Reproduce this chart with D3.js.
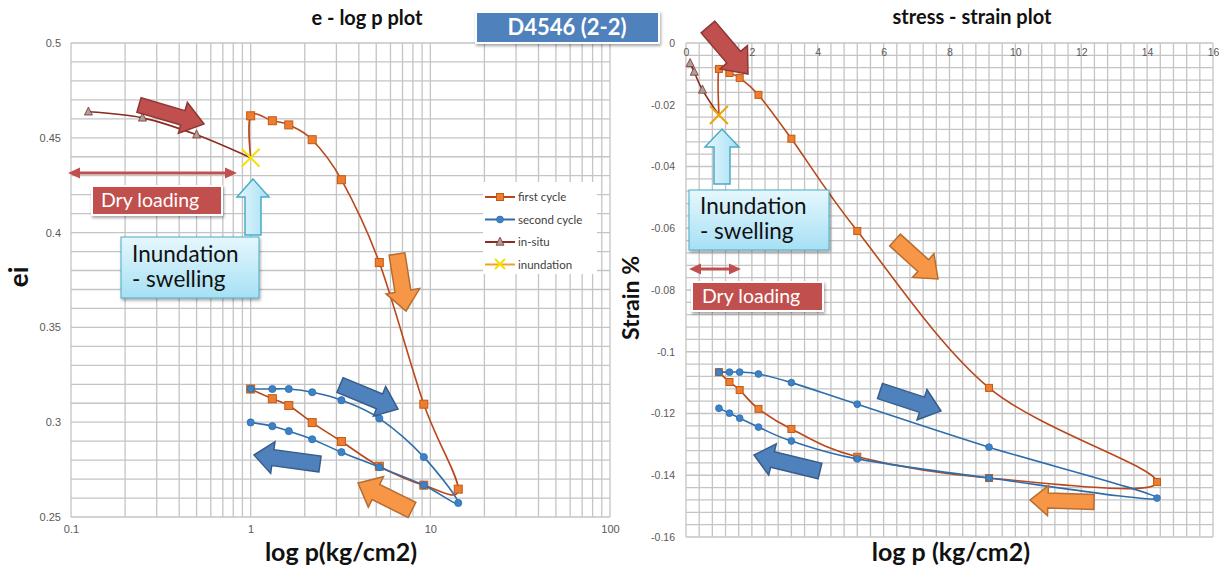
<!DOCTYPE html>
<html lang="en">
<head>
<meta charset="UTF-8">
<title>D4546 (2-2)</title>
<script src="https://d3js.org/d3.v7.min.js"></script>
<style>
    body { margin: 0; background: #fff; }
    svg { font-family: Lato, "Open Sans", sans-serif; }
    .grid line { stroke: #c4c4c4; stroke-width: 1.3px; }
    .tick text { fill: #595959; }
    .axis .domain { display: none; }
</style>
</head>
<body>
<svg width="1225" height="569"></svg>
<script>
// pressures (kg/cm2)
const inSituP = [0.125, 0.25, 0.5, 1];
const firstP = [1, 1.32, 1.63, 2.2, 3.2, 5.2, 9.2, 14.3, 9.2, 5.2, 3.2, 2.2, 1.63, 1.32, 1];
const secondP = [1, 1.32, 1.63, 2.2, 3.2, 5.2, 9.2, 14.3, 9.2, 5.2, 3.2, 2.2, 1.63, 1.32, 1];
const inundP = [1];

// void ratio, e - log p plot
const inSituE = [0.4637, 0.4605, 0.4516, 0.4395];
const firstE = [0.4616, 0.459, 0.4568, 0.449, 0.4279, 0.3842, 0.3095, 0.2647, 0.2668, 0.2768, 0.2898, 0.2998, 0.3088, 0.3124, 0.3175];
const secondE = [0.3175, 0.3175, 0.3175, 0.3158, 0.3116, 0.302, 0.2816, 0.2574, 0.2668, 0.2763, 0.2842, 0.291, 0.2953, 0.2979, 0.2999];
const inundE = [0.4395];

// strain, stress - strain plot
const inSituS = [-0.0066, -0.0094, -0.0152, -0.0233];
const firstS = [-0.0084, -0.0097, -0.0113, -0.0168, -0.031, -0.0609, -0.1117, -0.1422, -0.1409, -0.134, -0.125, -0.1185, -0.1124, -0.1098, -0.1066];
const secondS = [-0.1066, -0.1066, -0.1066, -0.1072, -0.110, -0.117, -0.1309, -0.1474, -0.1409, -0.1347, -0.1289, -0.1244, -0.1215, -0.1199, -0.1183];
const inundS = [-0.0233];

const leftXTicks = [0.1, 1, 10, 100];
const leftYTicks = [0.25, 0.3, 0.35, 0.4, 0.45, 0.5];
const rightXTicks = [0, 2, 4, 6, 8, 10, 12, 14, 16];
const rightYTicks = [0, -0.02, -0.04, -0.06, -0.08, -0.1, -0.12, -0.14, -0.16];
const legendNames = ["first cycle", "second cycle", "in-situ", "inundation"];

const col = {
    first: "#b9471c", firstFill: "#ed7d31", firstEdge: "#c55a11",
    second: "#2e6dac", secondFill: "#3d82c6",
    insitu: "#8b2a1e", insituFill: "#a3a3a3",
    inund: "#f0a030",
    red: "#c0504d", redEdge: "#8c3836",
    orange: "#f79646", orangeEdge: "#b66d31",
    blue: "#4f81bd", blueEdge: "#385d8a",
    cyanEdge: "#4bacc6"
};

const svg = d3.select("svg");
const defs = svg.append("defs");
const shadow = defs.append("filter").attr("id", "shadow").attr("x", "-20%").attr("y", "-20%").attr("width", "140%").attr("height", "160%");
shadow.append("feDropShadow").attr("dx", 1).attr("dy", 2).attr("stdDeviation", 1.8).attr("flood-opacity", 0.35);
const grad = defs.append("linearGradient").attr("id", "cyan").attr("x1", 0).attr("y1", 0).attr("x2", 0).attr("y2", 1);
grad.append("stop").attr("offset", "0%").attr("stop-color", "#e6f7fd");
grad.append("stop").attr("offset", "100%").attr("stop-color", "#a6e0f4");

// scales
const xL = d3.scaleLog().domain([0.1, 100]).range([71, 610]);
const yL = d3.scaleLinear().domain([0.25, 0.5]).range([517, 43]);
const xR = d3.scaleLinear().domain([0, 16]).range([686, 1213]);
const yR = d3.scaleLinear().domain([-0.16, 0]).range([537, 43]);

// ---------- grids ----------
const logMinor = [];
[0.1, 1, 10].forEach(d => { for (let k = 1; k < 10; k++) logMinor.push(+(d * k).toPrecision(3)); });
logMinor.push(100);

function drawGrid(xs, ys, xVals, yVals) {
    const g = svg.append("g").attr("class", "grid");
    const [x0, x1] = xs.range(), [y0, y1] = ys.range();
    g.selectAll(".v").data(xVals).join("line").attr("class", "v")
        .attr("x1", d => xs(d)).attr("x2", d => xs(d)).attr("y1", y0).attr("y2", y1);
    g.selectAll(".h").data(yVals).join("line").attr("class", "h")
        .attr("x1", x0).attr("x2", x1).attr("y1", d => ys(d)).attr("y2", d => ys(d));
}
drawGrid(xL, yL, logMinor, d3.range(0, 26).map(i => 0.25 + i * 0.01));
drawGrid(xR, yR, d3.range(0, 41).map(i => i * 0.4), d3.range(0, 41).map(i => -0.16 + i * 0.004));

// ---------- axes labels ----------
const fmt = d => String(+d.toFixed(2));
svg.append("g").attr("class", "axis").attr("transform", "translate(71,0)")
    .call(d3.axisLeft(yL).tickValues(leftYTicks).tickFormat(fmt).tickSize(0).tickPadding(10))
    .selectAll("text").style("font-size", "11px");
svg.append("g").attr("class", "axis").attr("transform", "translate(0,517)")
    .call(d3.axisBottom(xL).tickValues(leftXTicks).tickFormat(d => String(d)).tickSize(0).tickPadding(8))
    .selectAll("text").style("font-size", "11px");
svg.append("g").attr("class", "axis").attr("transform", "translate(686,0)")
    .call(d3.axisLeft(yR).tickValues(rightYTicks).tickFormat(fmt).tickSize(0).tickPadding(11))
    .selectAll("text").style("font-size", "10.5px");
svg.append("g").attr("class", "axis").attr("transform", "translate(0,43)")
    .call(d3.axisBottom(xR).tickValues(rightXTicks).tickFormat(d => String(d)).tickSize(0).tickPadding(6))
    .selectAll("text").style("font-size", "10.5px");

// titles
function label(x, y, text, size, rot) {
    const t = svg.append("text").attr("text-anchor", "middle").attr("font-weight", "bold")
        .attr("font-size", size).attr("fill", "#111").text(text);
    if (rot) t.attr("transform", `translate(${x},${y}) rotate(-90)`);
    else t.attr("x", x).attr("y", y);
}
label(367, 25, "e - log p plot", 20);
label(972, 24, "stress - strain plot", 20);
label(341, 561, "log p(kg/cm2)", 25);
label(951, 561, "log p (kg/cm2)", 25);
label(28, 277, "ei", 26, true);
label(639, 298, "Strain %", 23, true);

// ---------- series ----------
const smooth = d3.curveCardinal.tension(0);

function series(xs, ys, P, V, color, width, startP, startV) {
    const pts = P.map((p, i) => [xs(p), ys(V[i])]);
    if (startP !== undefined) pts.unshift([xs(startP), ys(startV)]);
    svg.append("path").attr("d", d3.line().curve(smooth)(pts))
        .attr("fill", "none").attr("stroke", color).attr("stroke-width", width);
    return P.map((p, i) => [xs(p), ys(V[i])]);
}
function squares(pts, s) {
    svg.append("g").selectAll("rect").data(pts).join("rect")
        .attr("x", d => d[0] - s / 2).attr("y", d => d[1] - s / 2).attr("width", s).attr("height", s)
        .attr("fill", col.firstFill).attr("stroke", col.firstEdge).attr("stroke-width", 1);
}
function circles(pts, r) {
    svg.append("g").selectAll("circle").data(pts).join("circle")
        .attr("cx", d => d[0]).attr("cy", d => d[1]).attr("r", r)
        .attr("fill", col.secondFill).attr("stroke", col.second).attr("stroke-width", 0.8);
}
function triangles(pts, s) {
    svg.append("g").selectAll("path").data(pts).join("path")
        .attr("d", d => `M${d[0]},${d[1] - s * 0.6}L${d[0] + s / 2},${d[1] + s * 0.4}L${d[0] - s / 2},${d[1] + s * 0.4}Z`)
        .attr("fill", col.insituFill).attr("stroke", col.insitu).attr("stroke-width", 0.8);
}
function cross(x, y, h, color) {
    svg.append("path").attr("d", `M${x - h},${y - h}L${x + h},${y + h}M${x - h},${y + h}L${x + h},${y - h}`)
        .attr("stroke", color).attr("stroke-width", 2);
}

// left chart
let p = series(xL, yL, inSituP, inSituE, col.insitu, 1.6);
triangles(p.slice(0, 3), 8);
p = series(xL, yL, firstP, firstE, col.first, 1.6, inundP[0], inundE[0]);
squares(p, 8);
p = series(xL, yL, secondP, secondE, col.second, 1.6);
circles(p, 3.6);
cross(xL(inundP[0]), yL(inundE[0]), 9, "#f2e200");

// right chart
p = series(xR, yR, inSituP, inSituS, col.insitu, 1.6);
triangles(p.slice(0, 3), 8);
p = series(xR, yR, firstP, firstS, col.first, 1.6, inundP[0], inundS[0]);
squares(p, 7);
p = series(xR, yR, secondP, secondS, col.second, 1.6);
circles(p, 3.4);
cross(xR(inundP[0]), yR(inundS[0]), 9, "#f0a30a");

// ---------- legend ----------
const lg = svg.append("g");
lg.append("rect").attr("x", 483).attr("y", 182).attr("width", 114).attr("height", 92).attr("fill", "#fff");
legendNames.forEach((name, i) => {
    const y = 197 + i * 22.5;
    const c = [col.first, col.second, col.insitu, col.inund][i];
    lg.append("line").attr("x1", 485).attr("x2", 515).attr("y1", y).attr("y2", y)
        .attr("stroke", c).attr("stroke-width", 2);
    lg.append("text").attr("x", 518).attr("y", y + 4).attr("font-size", "11.5px").attr("fill", "#404040").text(name);
});
squares([[500, 197]], 7);
circles([[500, 219.5]], 3.4);
triangles([[500, 242]], 8);
lg.append("path").attr("d", "M495,259L505,269M495,269L505,259").attr("stroke", "#f2e200").attr("stroke-width", 2);

// ---------- annotations ----------
function blockArrow(a) {
    const dx = a.x2 - a.x1, dy = a.y2 - a.y1, L = Math.hypot(dx, dy);
    const ang = Math.atan2(dy, dx) * 180 / Math.PI;
    const b = a.body / 2, h = a.head / 2, s = L - a.headLen;
    const pts = [[0, -b], [s, -b], [s, -h], [L, 0], [s, h], [s, b], [0, b]];
    svg.append("polygon").attr("points", pts.map(q => q.join(",")).join(" "))
        .attr("transform", `translate(${a.x1},${a.y1}) rotate(${ang})`)
        .attr("fill", a.fill).attr("stroke", a.stroke).attr("stroke-width", 1.5);
}
function doubleArrow(x1, x2, y) {
    const hl = 12, hw = 5.5, t = 1.6;
    const pts = [[x1, y], [x1 + hl, y - hw], [x1 + hl, y - t], [x2 - hl, y - t], [x2 - hl, y - hw], [x2, y],
                 [x2 - hl, y + hw], [x2 - hl, y + t], [x1 + hl, y + t], [x1 + hl, y + hw]];
    svg.append("polygon").attr("points", pts.map(q => q.join(",")).join(" ")).attr("fill", col.red);
}
function textBox(b) {
    svg.append("rect").attr("x", b.x).attr("y", b.y).attr("width", b.w).attr("height", b.h)
        .attr("fill", b.fill).attr("stroke", b.stroke).attr("stroke-width", b.sw).attr("filter", "url(#shadow)");
    b.lines.forEach((t, i) => svg.append("text").attr("x", b.tx).attr("y", b.ty[i])
        .attr("font-size", b.size).attr("fill", b.color).text(t));
}

const arrows = [
    { x1: 139, y1: 105, x2: 204, y2: 124, body: 15, head: 32, headLen: 22, fill: col.red, stroke: col.redEdge },
    { x1: 397, y1: 254, x2: 406, y2: 311, body: 16, head: 34, headLen: 20, fill: col.orange, stroke: col.orangeEdge },
    { x1: 340, y1: 385, x2: 398, y2: 409, body: 16, head: 32, headLen: 20, fill: col.blue, stroke: col.blueEdge },
    { x1: 320, y1: 464, x2: 254, y2: 455, body: 16, head: 32, headLen: 19, fill: col.blue, stroke: col.blueEdge },
    { x1: 412, y1: 510, x2: 358, y2: 483, body: 17, head: 34, headLen: 20, fill: col.orange, stroke: col.orangeEdge },
    { x1: 708, y1: 27, x2: 748, y2: 74, body: 18, head: 36, headLen: 22, fill: col.red, stroke: col.redEdge },
    { x1: 895, y1: 240, x2: 938, y2: 279, body: 16, head: 32, headLen: 20, fill: col.orange, stroke: col.orangeEdge },
    { x1: 880, y1: 391, x2: 941, y2: 411, body: 16, head: 32, headLen: 20, fill: col.blue, stroke: col.blueEdge },
    { x1: 820, y1: 471, x2: 754, y2: 455, body: 16, head: 32, headLen: 19, fill: col.blue, stroke: col.blueEdge },
    { x1: 1094, y1: 502, x2: 1030, y2: 500, body: 15, head: 30, headLen: 18, fill: col.orange, stroke: col.orangeEdge },
    { x1: 253, y1: 235, x2: 253, y2: 179, body: 16, head: 32, headLen: 18, fill: "url(#cyan)", stroke: col.cyanEdge },
    { x1: 722, y1: 184, x2: 722, y2: 129, body: 16, head: 34, headLen: 18, fill: "url(#cyan)", stroke: col.cyanEdge }
];
arrows.forEach(blockArrow);

doubleArrow(68, 237, 173);
doubleArrow(689, 741, 269);

textBox({ x: 92, y: 186, w: 130, h: 29, fill: col.red, stroke: "#fff", sw: 2, tx: 101, ty: [207], size: "19.5px", color: "#fff", lines: ["Dry loading"] });
textBox({ x: 692, y: 282, w: 131, h: 29, fill: col.red, stroke: "#fff", sw: 2, tx: 702, ty: [303], size: "19.5px", color: "#fff", lines: ["Dry loading"] });
textBox({ x: 121, y: 237, w: 138, h: 61, fill: "url(#cyan)", stroke: col.cyanEdge, sw: 1, tx: 132, ty: [262, 287], size: "22.5px", color: "#111", lines: ["Inundation", "- swelling"] });
textBox({ x: 689, y: 190, w: 140, h: 60, fill: "url(#cyan)", stroke: col.cyanEdge, sw: 1, tx: 700, ty: [214, 239], size: "22.5px", color: "#111", lines: ["Inundation", "- swelling"] });

// sample id tag
svg.append("rect").attr("x", 476).attr("y", 12).attr("width", 183).attr("height", 31)
    .attr("fill", col.blue).attr("stroke", "#fff").attr("stroke-width", 2).attr("filter", "url(#shadow)");
svg.append("text").attr("x", 567).attr("y", 35).attr("text-anchor", "middle").attr("font-size", "22px")
    .attr("font-weight", "bold").attr("fill", "#fff").text("D4546 (2-2)");
</script>
</body>
</html>
